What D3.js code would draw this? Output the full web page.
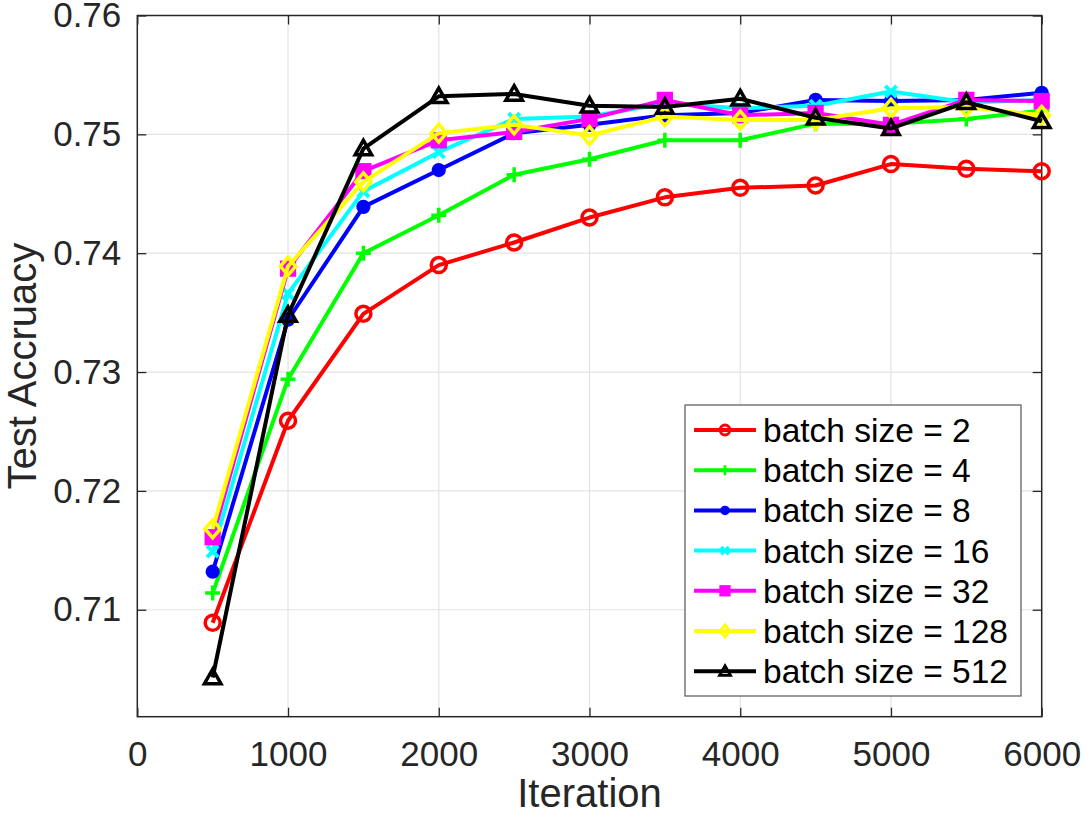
<!DOCTYPE html>
<html>
<head>
<meta charset="utf-8">
<script src="https://cdn.jsdelivr.net/npm/d3@7"></script>
<style>
  body { margin: 0; background: #fff; }
  svg { display: block; font-family: "Liberation Sans", Arial, sans-serif; }
</style>
</head>
<body>
<svg id="chart" width="1090" height="825"></svg>
<script>
const iterations = [500, 1000, 1500, 2000, 2500, 3000, 3500, 4000, 4500, 5000, 5500, 6000]

const bs2   = [0.7089, 0.7259, 0.7349, 0.7390, 0.7409, 0.7430, 0.7447, 0.7455, 0.7457, 0.7475, 0.7471, 0.7469]
const bs4   = [0.7114, 0.7294, 0.7400, 0.7432, 0.7466, 0.7479, 0.7495, 0.7495, 0.7509, 0.7509, 0.7513, 0.7520]
const bs8   = [0.7132, 0.7344, 0.7439, 0.7470, 0.7501, 0.7508, 0.7516, 0.7518, 0.7529, 0.7528, 0.7529, 0.7535]
const bs16  = [0.7149, 0.7366, 0.7452, 0.7485, 0.7513, 0.7515, 0.7526, 0.7522, 0.7524, 0.7536, 0.7527, 0.7529]
const bs32  = [0.7161, 0.7387, 0.7469, 0.7495, 0.7502, 0.7513, 0.7529, 0.7516, 0.7518, 0.7508, 0.7529, 0.7528]
const bs128 = [0.7168, 0.7389, 0.7460, 0.7501, 0.7508, 0.7499, 0.7515, 0.7512, 0.7512, 0.7522, 0.7523, 0.7516]
const bs512 = [0.7043, 0.7348, 0.7488, 0.7532, 0.7534, 0.7524, 0.7523, 0.7530, 0.7514, 0.7505, 0.7527, 0.7511]

const seriesNames = ["batch size = 2", "batch size = 4", "batch size = 8", "batch size = 16",
                     "batch size = 32", "batch size = 128", "batch size = 512"]
const seriesValues = [bs2, bs4, bs8, bs16, bs32, bs128, bs512]
const seriesColors = ["#ff0000", "#00ff00", "#0000ff", "#00ffff", "#ff00ff", "#ffff00", "#000000"]
const seriesMarkers = ["circle", "plus", "dot", "cross", "square", "diamond", "triangle"]

const xTicks = [0, 1000, 2000, 3000, 4000, 5000, 6000]
const yTicks = [0.71, 0.72, 0.73, 0.74, 0.75, 0.76]

const svg = d3.select("#chart")
const pLeft = 137.3, pRight = 1041.7, pTop = 15.5, pBottom = 716.7
const axisColor = "#262626"

const x = d3.scaleLinear().domain([0, 6000]).range([pLeft, pRight])
const y = d3.scaleLinear().domain([0.701, 0.76]).range([pBottom, pTop])

// grid
const grid = svg.append("g")
grid.selectAll(".gx").data(xTicks.slice(1, -1)).enter().append("line")
  .attr("x1", d => x(d)).attr("x2", d => x(d)).attr("y1", pTop).attr("y2", pBottom)
  .attr("stroke", "#e3e3e3").attr("stroke-width", 1.2)
grid.selectAll(".gy").data(yTicks.slice(0, -1)).enter().append("line")
  .attr("y1", d => y(d)).attr("y2", d => y(d)).attr("x1", pLeft).attr("x2", pRight)
  .attr("stroke", "#e3e3e3").attr("stroke-width", 1.2)

// axes
function styleAxis(g) {
  g.select(".domain").remove()
  g.selectAll(".tick line").attr("stroke", axisColor).attr("stroke-width", 1.3)
  g.selectAll(".tick text").attr("fill", axisColor).style("font-size", "35px")
    .style("font-family", "'Liberation Sans', Arial, sans-serif")
}
svg.append("g").attr("transform", `translate(0,${pBottom})`)
  .call(d3.axisBottom(x).tickValues(xTicks).tickSize(-9).tickPadding(24).tickFormat(d3.format("d")))
  .call(styleAxis)
svg.append("g").attr("transform", `translate(0,${pTop})`)
  .call(d3.axisTop(x).tickValues(xTicks).tickSize(-9).tickFormat(""))
  .call(styleAxis)
svg.append("g").attr("transform", `translate(${pLeft},0)`)
  .call(d3.axisLeft(y).tickValues(yTicks).tickSize(-9).tickPadding(16).tickFormat(d3.format(".2f")))
  .call(styleAxis)
svg.append("g").attr("transform", `translate(${pRight},0)`)
  .call(d3.axisRight(y).tickValues(yTicks).tickSize(-9).tickFormat(""))
  .call(styleAxis)

svg.append("rect").attr("x", pLeft).attr("y", pTop)
  .attr("width", pRight - pLeft).attr("height", pBottom - pTop)
  .attr("fill", "none").attr("stroke", axisColor).attr("stroke-width", 1.5)

// axis titles
svg.append("text").attr("x", (pLeft + pRight) / 2).attr("y", 807)
  .attr("text-anchor", "middle").attr("fill", axisColor)
  .style("font-size", "40px").text("Iteration")
svg.append("text")
  .attr("transform", `translate(36,${(pTop + pBottom) / 2}) rotate(-90)`)
  .attr("text-anchor", "middle").attr("fill", axisColor)
  .style("font-size", "40px").text("Test Accruacy")

// markers
function drawMarker(g, type, color, s) {
  const sw = s > 5 ? 3.5 : 2.8
  if (type === "circle") {
    g.append("circle").attr("r", s).attr("fill", "none").attr("stroke", color).attr("stroke-width", sw)
  } else if (type === "dot") {
    g.append("circle").attr("r", s * 0.95).attr("fill", color)
  } else if (type === "plus") {
    g.append("path").attr("d", `M${-s},0H${s}M0,${-s}V${s}`).attr("stroke", color).attr("stroke-width", sw)
  } else if (type === "cross") {
    const c = s * 0.75
    g.append("path").attr("d", `M${-c},${-c}L${c},${c}M${-c},${c}L${c},${-c}`)
      .attr("stroke", color).attr("stroke-width", sw + 0.5)
  } else if (type === "square") {
    const c = s * 0.85
    g.append("rect").attr("x", -c).attr("y", -c).attr("width", 2 * c).attr("height", 2 * c)
      .attr("fill", color).attr("stroke", color).attr("stroke-width", sw)
  } else if (type === "diamond") {
    const c = s * 1.2
    g.append("path").attr("d", `M0,${-c}L${c * 0.85},0L0,${c}L${-c * 0.85},0Z`)
      .attr("fill", "none").attr("stroke", color).attr("stroke-width", sw)
  } else if (type === "triangle") {
    const c = s * 1.1
    g.append("path").attr("d", `M0,${-c}L${c},${c * 0.75}L${-c},${c * 0.75}Z`)
      .attr("fill", "none").attr("stroke", color).attr("stroke-width", sw)
  }
}

const line = d3.line().x(d => x(d[0])).y(d => y(d[1]))

seriesValues.forEach((vals, i) => {
  const pts = iterations.map((it, j) => [it, vals[j]])
  const g = svg.append("g")
  g.append("path").datum(pts).attr("d", line)
    .attr("fill", "none").attr("stroke", seriesColors[i]).attr("stroke-width", 4)
    .attr("stroke-linejoin", "round")
  g.selectAll(".m").data(pts).enter().append("g")
    .attr("transform", d => `translate(${x(d[0])},${y(d[1])})`)
    .each(function () { drawMarker(d3.select(this), seriesMarkers[i], seriesColors[i], 7.5) })
})

// legend
const lg = svg.append("g")
lg.append("rect").attr("x", 685).attr("y", 405).attr("width", 336).attr("height", 291)
  .attr("fill", "#fff").attr("stroke", "#555").attr("stroke-width", 1.2)
seriesNames.forEach((name, i) => {
  const cy = 430 + i * 40.2
  lg.append("line").attr("x1", 694).attr("x2", 756).attr("y1", cy).attr("y2", cy)
    .attr("stroke", seriesColors[i]).attr("stroke-width", 4)
  const mg = lg.append("g").attr("transform", `translate(725,${cy})`)
  drawMarker(mg, seriesMarkers[i], seriesColors[i], 5)
  lg.append("text").attr("x", 763).attr("y", cy).attr("dy", "0.36em")
    .attr("fill", "#000").style("font-size", "33.5px").text(name)
})
</script>
</body>
</html>
